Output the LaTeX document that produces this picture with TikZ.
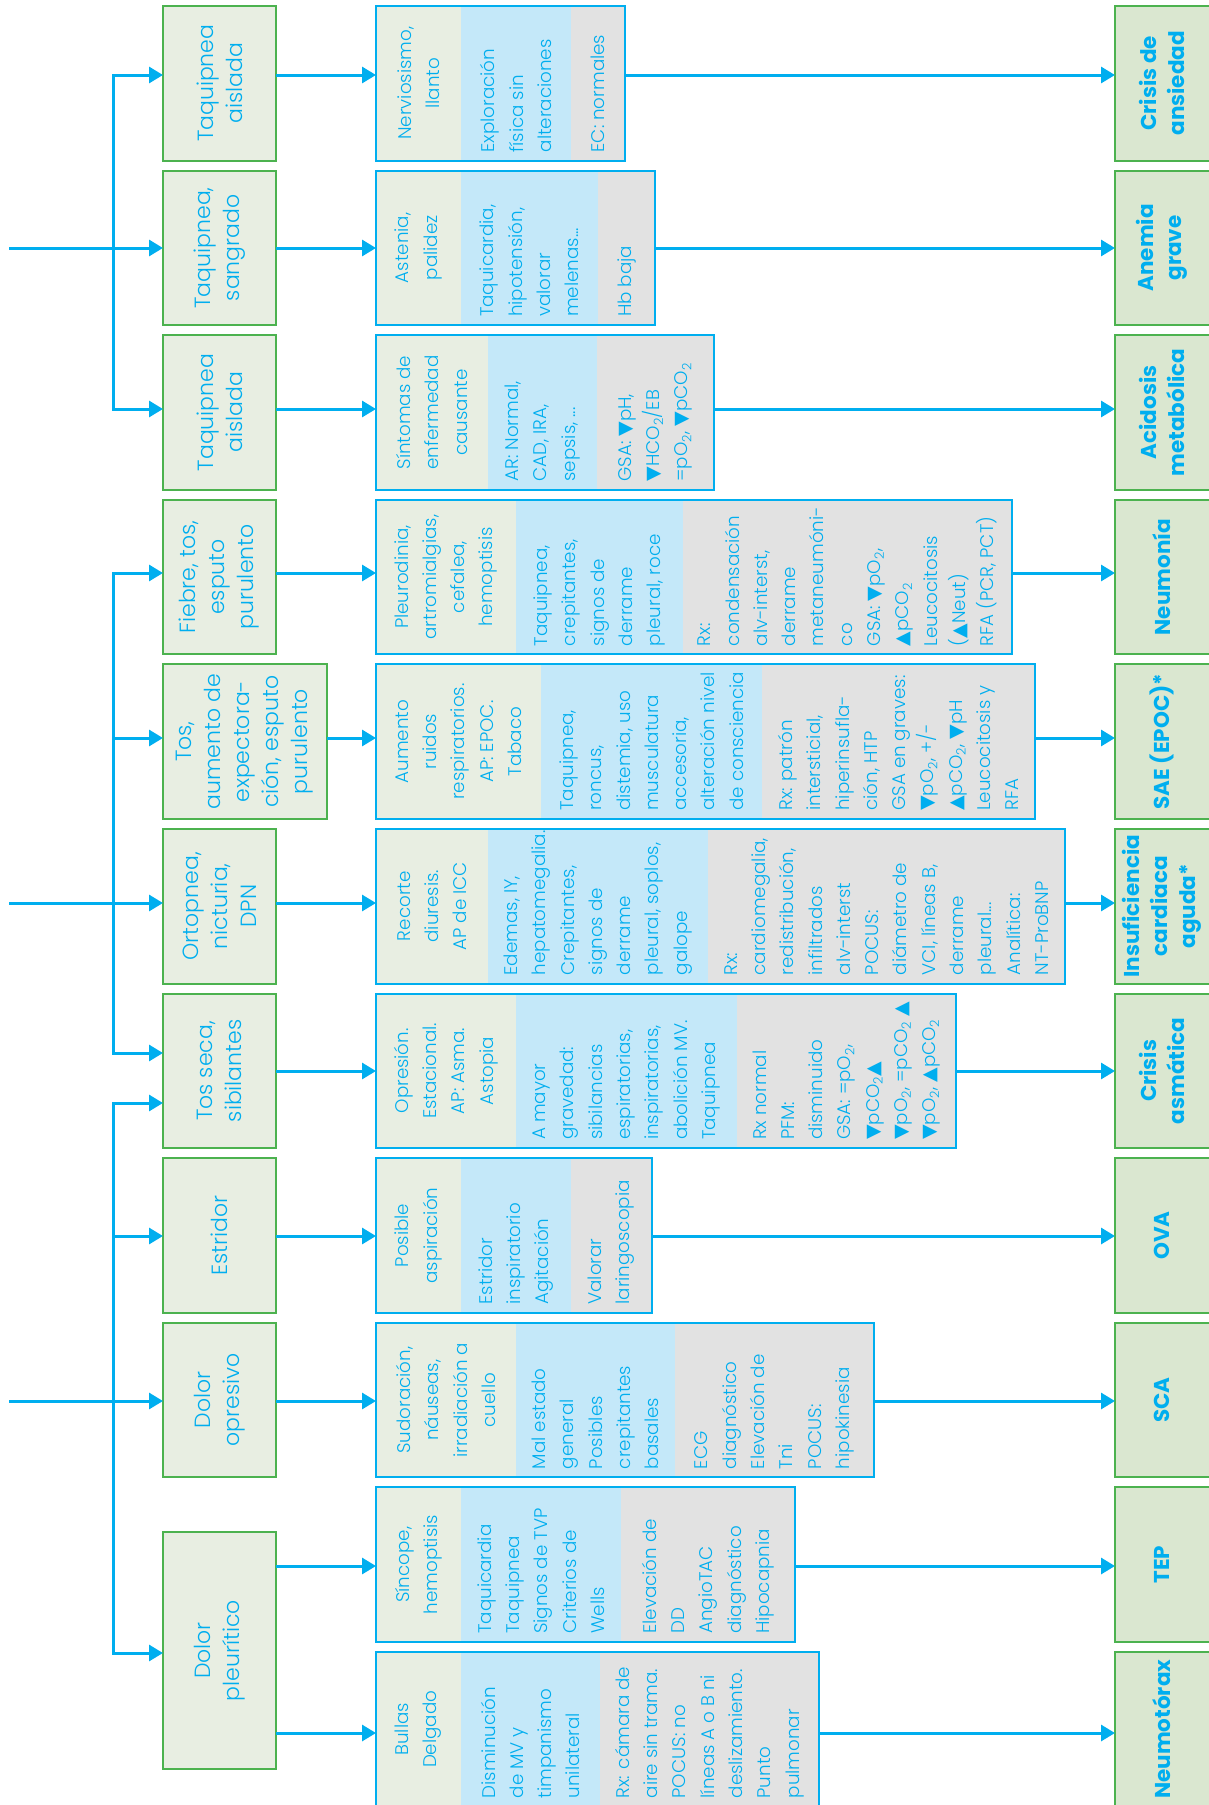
\documentclass[tikz,border=0pt]{standalone}
\usepackage{fontspec}
\setmainfont{Poppins}[UprightFont={* Light},BoldFont={* Bold}]
\newfontfamily\symfont{DejaVu Sans}
\usetikzlibrary{arrows.meta}
\definecolor{cy}{HTML}{00AEEF}
\definecolor{gr}{HTML}{4CB24F}
\definecolor{sf}{HTML}{E8EEE2}
\definecolor{df}{HTML}{DAE7D0}
\definecolor{fb}{HTML}{C4E8F9}
\definecolor{fc}{HTML}{E2E2E2}
\newcommand\Tdn{{\symfont\fontsize{19}{19}\selectfont ▼}}
\newcommand\Tup{{\symfont\fontsize{19}{19}\selectfont ▲}}
\newcommand\ssub{\textsubscript{2}}
\tikzset{
  arr/.style={draw=cy, line width=3pt, -{Triangle[length=14pt,width=16pt]}},
  symbox/.style={draw=gr, fill=sf, line width=2pt, inner sep=0pt, outer sep=0pt},
  diabox/.style={draw=gr, fill=df, line width=2pt, inner sep=0pt, outer sep=0pt},
  tribox/.style={draw=cy, line width=2pt, inner sep=0pt, outer sep=0pt},
  txtc/.style={rotate=90, text=cy, inner sep=0pt, align=center, font=\fontsize{18.3}{28.3}\selectfont},
  txtl/.style={rotate=90, text=cy, inner sep=0pt, align=left, anchor=west, font=\fontsize{18.3}{28.3}\selectfont},
  symtxt/.style={rotate=90, text=cy, inner sep=0pt, align=center, font=\fontsize{22}{29}\selectfont},
  diatxt/.style={rotate=90, text=cy, inner sep=0pt, align=center, font=\bfseries\fontsize{21.5}{28}\selectfont},
}
\newcommand\tri[8]{%
  \fill[sf] (376,#2) rectangle (#3,{#2+154.5});
  \fill[fb] (#3,#2) rectangle (#4,{#2+154.5});
  \fill[fc] (#4,#2) rectangle (#5,{#2+154.5});
  \node[tribox, minimum width={#5-376}, minimum height=154.5] (T#1) at ({(376+#5)/2},{#2+77.25}) {};
  \node[txtc] (T#1a) at ({(376+#3)/2},{#2+77.25}) {#6};
  \node[txtl] (T#1b) at ({(#3+#4)/2},{#2+154.5-8}) {#7};
  \node[txtl] (T#1c) at ({(#4+#5)/2},{#2+154.5-8}) {#8};
}
\newcommand\symb[4]{%
  \node[symbox, minimum width={#3-163}, minimum height=154.5] (S#1) at ({(163+#3)/2},{#2+77.25}) {};
  \node[symtxt] (S#1t) at (S#1.center) {#4};
}
\newcommand\diag[3]{%
  \node[diabox, minimum width=98, minimum height=154.5] (D#1) at (1164,{#2+77.25}) {};
  \node[diatxt] (D#1t) at (1162,{#2+77.25}) {#3};
}
\newcommand\conn[2]{%
  \coordinate (a#1) at (0,#2);
  \draw[arr] (S#1.east |- a#1) -- (T#1.west |- a#1);
  \draw[arr] (T#1.east |- a#1) -- (D#1.west |- a#1);
}
\begin{document}
\begin{tikzpicture}[x=1pt,y=-1pt]
\useasboundingbox (0,0) rectangle (1209,1805);
\fill[white] (0,0) rectangle (1209,1805);

% symptom boxes
\symb{1}{6}{276}{Taquipnea\\aislada}
\symb{2}{170.6}{276}{Taquipnea,\\sangrado}
\symb{3}{335.2}{276}{Taquipnea\\aislada}
\symb{4}{499.8}{276}{Fiebre, tos,\\esputo\\purulento}
\symb{5}{664.4}{327}{Tos,\\aumento de\\expectora-\\ción, esputo\\purulento}
\symb{6}{829}{276}{Ortopnea,\\nicturia,\\DPN}
\symb{7}{993.6}{276}{Tos seca,\\sibilantes}
\symb{8}{1158.2}{276}{Estridor}
\symb{9}{1322.8}{276}{Dolor\\opresivo}
\node[symbox, minimum width=113, minimum height=237] (S10) at (219.5,1650.5) {};
\node[symtxt] (S10t) at (S10.center) {Dolor\\pleurítico};

% detail boxes
\tri{1}{6}{461}{571}{625}{Nerviosismo,\\llanto}{Exploración\\física sin\\alteraciones}{EC: normales}
\tri{2}{170.6}{461}{598}{655}{Astenia,\\palidez}{Taquicardia,\\hipotensión,\\valorar\\melenas...}{Hb baja}
\tri{3}{335.2}{488}{597}{714}{Síntomas de\\enfermedad\\causante}{AR: Normal,\\CAD, IRA,\\sepsis, ...}{GSA: \Tdn pH,\\\Tdn HCO\ssub/EB\\=pO\ssub, \Tdn pCO\ssub}
\tri{4}{499.8}{516}{683}{1012}{Pleurodinia,\\artromialgias,\\cefalea,\\hemoptisis}{Taquipnea,\\crepitantes,\\signos de\\derrame\\pleural, roce}{Rx:\\condensación\\alv-interst,\\derrame\\metaneumóni-\\co\\GSA: \Tdn pO\ssub,\\\Tup pCO\ssub\\Leucocitosis\\(\Tup Neut)\\RFA (PCR, PCT)}
\tri{5}{664.4}{541}{762}{1035}{Aumento\\ruidos\\respiratorios.\\AP: EPOC.\\Tabaco}{Taquipnea,\\roncus,\\distemia, uso\\musculatura\\accesoria,\\alteración nivel\\de consciencia}{Rx: patrón\\intersticial,\\hiperinsufla-\\ción, HTP\\GSA en graves:\\\Tdn pO\ssub, +/-\\\Tup pCO\ssub, \Tdn pH\\Leucocitosis y\\RFA}
\tri{6}{829}{488}{708}{1065}{Recorte\\diuresis.\\AP de ICC}{Edemas, IY,\\hepatomegalia.\\Crepitantes,\\signos de\\derrame\\pleural, soplos,\\galope}{Rx:\\cardiomegalia,\\redistribución,\\infiltrados\\alv-interst\\POCUS:\\diámetro de\\VCI, líneas B,\\derrame\\pleural...\\Analítica:\\NT-ProBNP}
\tri{7}{993.6}{516}{737}{956}{Opresión.\\Estacional.\\AP: Asma.\\Astopia}{A mayor\\gravedad:\\sibilancias\\espiratorias,\\inspiratorias,\\abolición MV.\\Taquipnea}{Rx normal\\PFM:\\disminuido\\GSA: =pO\ssub,\\\Tdn pCO\ssub\Tup\\\Tdn pO\ssub, =pCO\ssub\ \Tup\\\Tdn pO\ssub, \Tup pCO\ssub}
\tri{8}{1158.2}{461}{571}{652}{Posible\\aspiración}{Estridor\\inspiratorio\\Agitación}{Valorar\\laringoscopia}
\tri{9}{1322.8}{516}{675}{874}{Sudoración,\\náuseas,\\irradiación a\\cuello}{Mal estado\\general\\Posibles\\crepitantes\\basales}{ECG\\diagnóstico\\Elevación de\\Tni\\POCUS:\\hipokinesia}
\tri{10}{1487.4}{461}{621}{795}{Síncope,\\hemoptisis}{Taquicardia\\Taquipnea\\Signos de TVP\\Criterios de\\Wells}{Elevación de\\DD\\AngioTAC\\diagnóstico\\Hipocapnia}
\tri{11}{1652}{461}{600}{819}{Bullas\\Delgado}{Disminución\\de MV y\\timpanismo\\unilateral}{Rx: cámara de\\aire sin trama.\\POCUS: no\\líneas A o B ni\\deslizamiento.\\Punto\\pulmonar}

% diagnosis boxes
\diag{1}{6}{Crisis de\\ansiedad}
\diag{2}{170.6}{Anemia\\grave}
\diag{3}{335.2}{Acidosis\\metabólica}
\diag{4}{499.8}{Neumonía}
\diag{5}{664.4}{SAE (EPOC)*}
\diag{6}{829}{Insuficiencia\\cardiaca\\aguda*}
\diag{7}{993.6}{Crisis\\asmática}
\diag{8}{1158.2}{OVA}
\diag{9}{1322.8}{SCA}
\diag{10}{1487.4}{TEP}
\diag{11}{1652}{Neumotórax}

% connectors row by row
\conn{1}{75}
\conn{2}{248}
\conn{3}{409}
\conn{4}{573}
\conn{5}{738}
\conn{6}{903}
\conn{7}{1071}
\conn{8}{1236}
\conn{9}{1401}
\coordinate (a10) at (0,1566);
\coordinate (a11) at (0,1733);
\draw[arr] (S10.east |- a10) -- (T10.west |- a10);
\draw[arr] (T10.east |- a10) -- (D10.west |- a10);
\draw[arr] (S10.east |- a11) -- (T11.west |- a11);
\draw[arr] (T11.east |- a11) -- (D11.west |- a11);

% left distribution lines
\coordinate (e2) at (9,248);
\coordinate (e6) at (9,903);
\coordinate (e9) at (9,1401);
\draw[arr] (e2) -- (S2.west |- e2);
\draw[arr] (e6) -- (S6.west |- e6);
\draw[arr] (e9) -- (S9.west |- e9);

\coordinate (v1) at (113,75);
\coordinate (v3) at (113,409);
\draw[arr] (v3) -- (v1) -- (S1.west |- v1);
\draw[arr] (v1) -- (v3) -- (S3.west |- v3);

\coordinate (v4) at (113,573);
\coordinate (v5) at (113,738);
\coordinate (v7) at (113,1053);
\draw[arr] (v7) -- (v4) -- (S4.west |- v4);
\draw[arr] (v4) -- (v7) -- (S7.west |- v7);
\draw[arr] (v5) -- (S5.west |- v5);

\coordinate (w7) at (113,1103);
\coordinate (w8) at (113,1236);
\coordinate (w10) at (113,1653);
\draw[arr] (w10) -- (w7) -- (S7.west |- w7);
\draw[arr] (w7) -- (w10) -- (S10.west |- w10);
\draw[arr] (w8) -- (S8.west |- w8);
\end{tikzpicture}
\end{document}
